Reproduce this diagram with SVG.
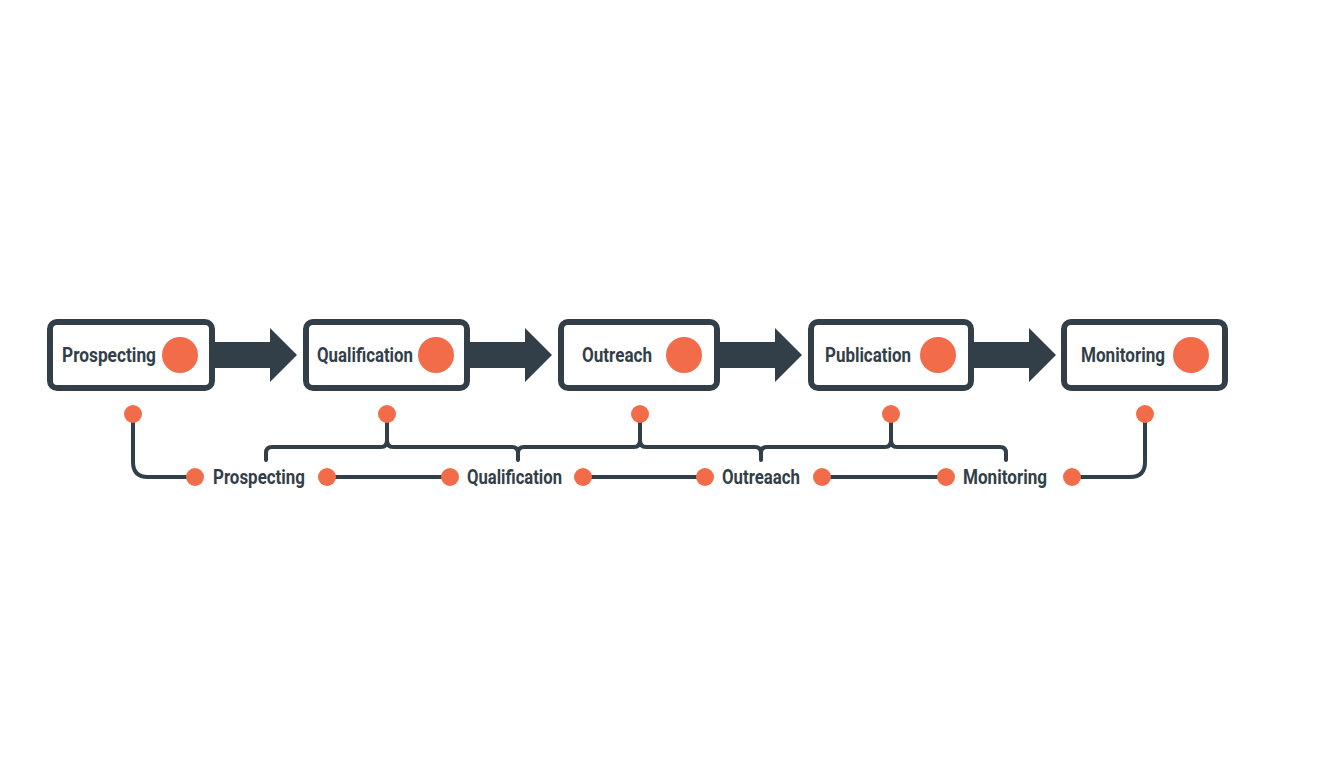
<svg xmlns="http://www.w3.org/2000/svg" width="1344" height="768" viewBox="0 0 1344 768">
<style>
.box{fill:#fff;stroke:#333f48;stroke-width:6}
.dot{fill:#f26c4a}
.t{font-family:Roboto,"Liberation Sans",sans-serif;font-weight:700;font-size:20px;fill:#333f48}
.ln{fill:none;stroke:#333f48;stroke-width:4;stroke-linecap:round;stroke-linejoin:round}
.ar{fill:#333f48}
</style>
<rect width="1344" height="768" fill="#fff"/>
<g id="n1"><rect class="box" x="50" y="322" width="162" height="66" rx="7"/><text class="t" x="62" y="362" textLength="94" lengthAdjust="spacingAndGlyphs">Prospecting</text><circle class="dot" cx="180" cy="355" r="18"/></g>
<g id="n2"><rect class="box" x="306" y="322" width="161" height="66" rx="7"/><text class="t" x="317" y="362" textLength="96" lengthAdjust="spacingAndGlyphs">Qualification</text><circle class="dot" cx="436" cy="355" r="18"/></g>
<g id="n3"><rect class="box" x="561" y="322" width="156" height="66" rx="7"/><text class="t" x="582" y="362" textLength="70" lengthAdjust="spacingAndGlyphs">Outreach</text><circle class="dot" cx="684" cy="355" r="18"/></g>
<g id="n4"><rect class="box" x="811" y="322" width="160" height="66" rx="7"/><text class="t" x="825" y="362" textLength="86" lengthAdjust="spacingAndGlyphs">Publication</text><circle class="dot" cx="938" cy="355" r="18"/></g>
<g id="n5"><rect class="box" x="1064" y="322" width="161" height="66" rx="7"/><text class="t" x="1081" y="362" textLength="84" lengthAdjust="spacingAndGlyphs">Monitoring</text><circle class="dot" cx="1191" cy="355" r="18"/></g>
<g id="connectors">
<polygon class="ar" points="213,342 270,342 270,328 297,355 270,382 270,368 213,368"/>
<polygon class="ar" points="468,342 525,342 525,328 552,355 525,382 525,368 468,368"/>
<polygon class="ar" points="718,342 775,342 775,328 802,355 775,382 775,368 718,368"/>
<polygon class="ar" points="972,342 1029,342 1029,328 1056,355 1029,382 1029,368 972,368"/>
<path class="ln" d="M133,420 V462 Q133,477 148,477 H195"/>
<path class="ln" d="M1145,420 V462 Q1145,477 1130,477 H1072"/>
<path class="ln" d="M327,477 H450 M583,477 H705 M822,477 H946"/>
<path class="ln" d="M266,460 V453 Q266,447 272,447 H381 Q387,447 387,440 V420 M387,440 Q387,447 393,447 H512 Q518,447 518,453 V460 M518,453 Q518,447 524,447 H634 Q640,447 640,440 V420 M640,440 Q640,447 646,447 H755 Q761,447 761,453 V460 M761,453 Q761,447 767,447 H885 Q891,447 891,440 V420 M891,440 Q891,447 897,447 H1000 Q1006,447 1006,453 V460"/>
</g>
<g id="dots">
<circle class="dot" cx="133" cy="414" r="9"/><circle class="dot" cx="387" cy="414" r="9"/><circle class="dot" cx="640" cy="414" r="9"/><circle class="dot" cx="891" cy="414" r="9"/><circle class="dot" cx="1145" cy="414" r="9"/>
<circle class="dot" cx="195" cy="477" r="9"/><circle class="dot" cx="327" cy="477" r="9"/><circle class="dot" cx="450" cy="477" r="9"/><circle class="dot" cx="583" cy="477" r="9"/><circle class="dot" cx="705" cy="477" r="9"/><circle class="dot" cx="822" cy="477" r="9"/><circle class="dot" cx="946" cy="477" r="9"/><circle class="dot" cx="1072" cy="477" r="9"/>
</g>
<g id="labels">
<text class="t" x="213" y="484" textLength="92" lengthAdjust="spacingAndGlyphs">Prospecting</text>
<text class="t" x="467" y="484" textLength="95" lengthAdjust="spacingAndGlyphs">Qualification</text>
<text class="t" x="722" y="484" textLength="78" lengthAdjust="spacingAndGlyphs">Outreaach</text>
<text class="t" x="963" y="484" textLength="84" lengthAdjust="spacingAndGlyphs">Monitoring</text>
</g>
</svg>
